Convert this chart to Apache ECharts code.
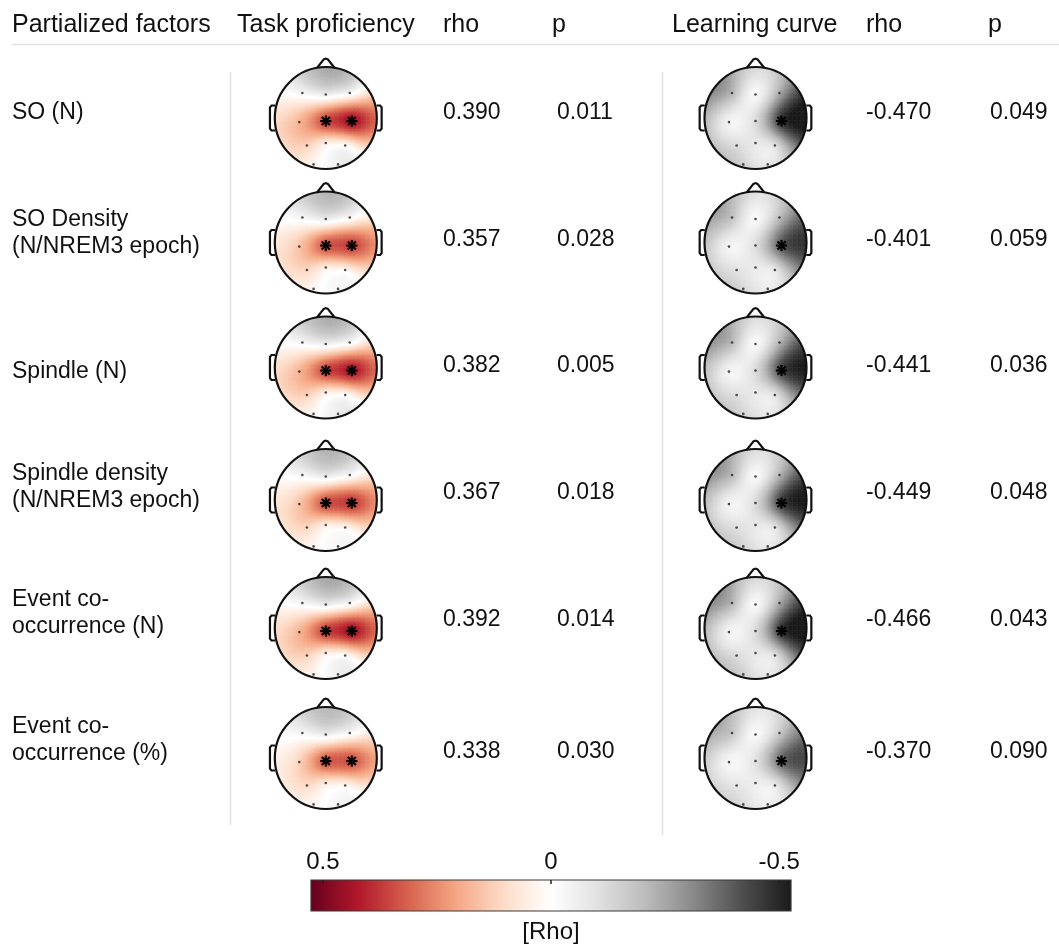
<!DOCTYPE html>
<html><head><meta charset="utf-8">
<script src="https://cdn.jsdelivr.net/npm/echarts@6/dist/echarts.min.js"></script>
<style>html,body{margin:0;padding:0;background:#fff}#c{width:1059px;height:947px}</style>
</head><body><div id="c"></div>
<script>
// ---------------- data ----------------
const headers = ['Partialized factors', 'Task proficiency', 'rho', 'p', 'Learning curve', 'rho', 'p'];
const factors = ['SO (N)', 'SO Density\n(N/NREM3 epoch)', 'Spindle (N)', 'Spindle density\n(N/NREM3 epoch)', 'Event co-\noccurrence (N)', 'Event co-\noccurrence (%)'];
const taskRho = ['0.390', '0.357', '0.382', '0.367', '0.392', '0.338'];
const taskP = ['0.011', '0.028', '0.005', '0.018', '0.014', '0.030'];
const learnRho = ['-0.470', '-0.401', '-0.441', '-0.449', '-0.466', '-0.370'];
const learnP = ['0.049', '0.059', '0.036', '0.048', '0.043', '0.090'];

const electrodes = ['F3', 'Fz', 'F4', 'C3', 'Cz', 'C4', 'P3', 'Pz', 'P4', 'O1', 'O2'];
const elecX = [-0.46, 0, 0.47, -0.52, 0, 0.51, -0.37, 0, 0.38, -0.24, 0.24];
const elecY = [0.49, 0.46, 0.49, -0.08, -0.06, -0.06, -0.54, -0.49, -0.54, -0.91, -0.91];

// electrode rho values (order as electrodes)
const taskMap1 = [-0.03, -0.06, -0.03, 0.18, 0.36, 0.45, 0.12, 0.05, 0.00, 0.03, -0.05];
const taskMap2 = [-0.03, -0.06, -0.02, 0.15, 0.34, 0.37, 0.11, 0.05, 0.02, 0.02, -0.03];
const taskMap3 = [-0.03, -0.05, -0.02, 0.18, 0.36, 0.44, 0.12, 0.05, 0.00, 0.02, -0.06];
const taskMap4 = [-0.03, -0.06, -0.02, 0.15, 0.35, 0.38, 0.11, 0.05, 0.02, 0.02, -0.03];
const taskMap5 = [-0.03, -0.06, -0.03, 0.18, 0.37, 0.45, 0.12, 0.05, 0.00, 0.03, -0.05];
const taskMap6 = [-0.03, -0.06, -0.02, 0.12, 0.33, 0.34, 0.10, 0.06, 0.02, 0.02, -0.03];
const learnMap1 = [-0.22, -0.02, -0.24, -0.04, -0.12, -0.47, -0.12, -0.08, -0.10, -0.15, -0.08];
const learnMap2 = [-0.19, -0.02, -0.20, -0.04, -0.11, -0.40, -0.10, -0.07, -0.08, -0.13, -0.07];
const learnMap3 = [-0.21, -0.02, -0.22, -0.04, -0.12, -0.44, -0.11, -0.08, -0.09, -0.14, -0.08];
const learnMap4 = [-0.21, -0.02, -0.22, -0.04, -0.12, -0.45, -0.11, -0.08, -0.09, -0.14, -0.08];
const learnMap5 = [-0.22, -0.02, -0.24, -0.04, -0.12, -0.47, -0.12, -0.08, -0.10, -0.15, -0.08];
const learnMap6 = [-0.18, -0.02, -0.17, -0.03, -0.10, -0.37, -0.09, -0.06, -0.07, -0.12, -0.06];
const taskMaps = [taskMap1, taskMap2, taskMap3, taskMap4, taskMap5, taskMap6];
const learnMaps = [learnMap1, learnMap2, learnMap3, learnMap4, learnMap5, learnMap6];
const taskSig = [['Cz', 'C4'], ['Cz', 'C4'], ['Cz', 'C4'], ['Cz', 'C4'], ['Cz', 'C4'], ['Cz', 'C4']];
const learnSig = [['C4'], ['C4'], ['C4'], ['C4'], ['C4'], ['C4']];

const cbTicks = [0.5, 0, -0.5];
const cbLabel = '[Rho]';
// RdGy colormap, from -0.5 to +0.5
const cmap = ['#1a1a1a', '#4d4d4d', '#878787', '#bababa', '#e0e0e0', '#ffffff', '#fddbc7', '#f4a582', '#d6604d', '#b2182b', '#67001f'];

// ---------------- layout ----------------
const W = 1059, H = 947;
const FONT = '"Liberation Sans", Arial, Helvetica, sans-serif';
const FS = 23, FSH = 25, FSC = 24;
const R = 51, EXT = 1.2, N = 96;
const rowCY = [118, 242.5, 367.5, 500, 628, 758];
const colCX = [325.8, 755.5];
const CLIM = 0.526;

// biharmonic spline (griddata v4) interpolation of electrode values
function solve(A, b) {
  const n = b.length;
  const M = A.map((r, i) => r.concat([b[i]]));
  for (let c = 0; c < n; c++) {
    let p = c;
    for (let r = c + 1; r < n; r++) if (Math.abs(M[r][c]) > Math.abs(M[p][c])) p = r;
    [M[c], M[p]] = [M[p], M[c]];
    for (let r = c + 1; r < n; r++) {
      const f = M[r][c] / M[c][c];
      for (let k = c; k <= n; k++) M[r][k] -= f * M[c][k];
    }
  }
  const x = new Array(n).fill(0);
  for (let r = n - 1; r >= 0; r--) {
    let s = M[r][n];
    for (let k = r + 1; k < n; k++) s -= M[r][k] * x[k];
    x[r] = s / M[r][r];
  }
  return x;
}
const green = d => d > 0 ? d * d * (Math.log(d) - 1) : 0;
function interpolator(vals) {
  const n = elecX.length;
  const G = [];
  for (let i = 0; i < n; i++) {
    const row = [];
    for (let j = 0; j < n; j++) row.push(green(Math.hypot(elecX[i] - elecX[j], elecY[i] - elecY[j])));
    G.push(row);
  }
  const w = solve(G, vals.slice());
  return (x, y) => {
    let s = 0;
    for (let j = 0; j < n; j++) s += w[j] * green(Math.hypot(x - elecX[j], y - elecY[j]));
    return s;
  };
}
function fieldData(vals) {
  const f = interpolator(vals);
  const step = 2 * EXT / N;
  const out = [];
  for (let i = 0; i < N; i++) {
    const x = -EXT + (i + 0.5) * step;
    for (let j = 0; j < N; j++) {
      const y = -EXT + (j + 0.5) * step;
      if (x * x + y * y > 1.0) continue;
      let v = f(x, y);
      v = Math.max(-CLIM, Math.min(CLIM, v));
      out.push([i, j, v]);
    }
  }
  return out;
}

const cats = Array.from({length: N}, (_, i) => i);
const grids = [], xAxes = [], yAxes = [], series = [], heatIdx = [];

function headOutline(params, api) {
  const c = api.coord([0, 0]);
  const s = api.size([1, 1]);
  const P = (x, y) => [c[0] + x * s[0], c[1] - y * s[1]];
  const st = {fill: null, stroke: '#111', lineWidth: 2.2};
  const ear = sgn => [P(sgn * 0.995, 0.245), P(sgn * 1.065, 0.245), P(sgn * 1.095, 0.21), P(sgn * 1.095, -0.21), P(sgn * 1.065, -0.245), P(sgn * 0.995, -0.245)];
  return {
    type: 'group', children: [
      {type: 'circle', shape: {cx: c[0], cy: c[1], r: s[0]}, style: st},
      {type: 'polyline', shape: {points: [P(-0.17, 0.985), P(-0.04, 1.15), P(0, 1.165), P(0.04, 1.15), P(0.17, 0.985)]}, style: st},
      {type: 'polyline', shape: {points: ear(-1)}, style: st},
      {type: 'polyline', shape: {points: ear(1)}, style: st}
    ]
  };
}
function asterisk(params, api) {
  const p = api.coord([api.value(0), api.value(1)]);
  const L = 5.6, D = L * 0.72;
  const st = {stroke: '#000', lineWidth: 2.1};
  return {
    type: 'group', children: [
      {type: 'line', shape: {x1: p[0] - L, y1: p[1], x2: p[0] + L, y2: p[1]}, style: st},
      {type: 'line', shape: {x1: p[0], y1: p[1] - L, x2: p[0], y2: p[1] + L}, style: st},
      {type: 'line', shape: {x1: p[0] - D, y1: p[1] - D, x2: p[0] + D, y2: p[1] + D}, style: st},
      {type: 'line', shape: {x1: p[0] - D, y1: p[1] + D, x2: p[0] + D, y2: p[1] - D}, style: st}
    ]
  };
}

function addHead(cx, cy, vals, sig) {
  const g = grids.length;
  grids.push({left: cx - EXT * R, top: cy - EXT * R, width: 2 * EXT * R, height: 2 * EXT * R, containLabel: false});
  const xc = xAxes.length;
  xAxes.push({type: 'category', data: cats, gridIndex: g, show: false, boundaryGap: true});
  xAxes.push({type: 'value', min: -EXT, max: EXT, gridIndex: g, show: false});
  yAxes.push({type: 'category', data: cats, gridIndex: g, show: false, boundaryGap: true});
  yAxes.push({type: 'value', min: -EXT, max: EXT, gridIndex: g, show: false});
  heatIdx.push(series.length);
  series.push({type: 'heatmap', xAxisIndex: xc, yAxisIndex: xc, data: fieldData(vals), progressive: 0, silent: true, animation: false});
  series.push({type: 'custom', xAxisIndex: xc + 1, yAxisIndex: xc + 1, data: [[0, 0]], renderItem: headOutline, silent: true, z: 5});
  const dots = [], stars = [];
  electrodes.forEach((e, i) => (sig.includes(e) ? stars : dots).push([elecX[i], elecY[i]]));
  series.push({type: 'scatter', xAxisIndex: xc + 1, yAxisIndex: xc + 1, data: dots, symbol: 'circle', symbolSize: 2.6, itemStyle: {color: '#222'}, silent: true, z: 6});
  series.push({type: 'custom', xAxisIndex: xc + 1, yAxisIndex: xc + 1, data: stars, renderItem: asterisk, silent: true, z: 7});
}
for (let r = 0; r < 6; r++) {
  addHead(colCX[0], rowCY[r], taskMaps[r], taskSig[r]);
  addHead(colCX[1], rowCY[r], learnMaps[r], learnSig[r]);
}

// colorbar
const cbG = grids.length;
grids.push({left: 311, top: 880, width: 480, height: 31});
const cbX = xAxes.length;
xAxes.push({
  type: 'value', gridIndex: cbG, min: -CLIM, max: CLIM, inverse: true, position: 'top', z: 10,
  axisLine: {show: false, onZero: false}, splitLine: {show: false},
  axisTick: {show: true, inside: true, length: 4, customValues: cbTicks, lineStyle: {color: '#222', width: 1.5}},
  axisLabel: {show: true, customValues: cbTicks, fontFamily: FONT, fontSize: FSC, color: '#111', margin: 6,
    formatter: v => (Math.abs(v) < 1e-9 ? '0' : String(v))}
});
yAxes.push({type: 'value', gridIndex: cbG, min: 0, max: 1, show: false});
series.push({
  type: 'custom', xAxisIndex: cbX, yAxisIndex: cbX, data: [[-CLIM, CLIM]], silent: true, z: 0,
  renderItem: (params, api) => {
    const a = api.coord([api.value(1), 1]);
    const b = api.coord([api.value(0), 0]);
    const stops = cmap.slice().reverse().map((c, i, arr) => ({offset: i / (arr.length - 1), color: c}));
    return {
      type: 'rect', shape: {x: a[0], y: a[1], width: b[0] - a[0], height: b[1] - a[1]},
      style: {fill: new echarts.graphic.LinearGradient(0, 0, 1, 0, stops), stroke: '#3a3a3a', lineWidth: 1.2}
    };
  }
});

// ---------------- table text ----------------
const graphic = [];
const headerX = [12, 237, 443, 552, 672, 866, 988];
headers.forEach((t, i) => graphic.push({type: 'text', x: headerX[i], y: 25, style: {text: t, font: `${FSH}px ${FONT}`, fill: '#111', verticalAlign: 'middle'}}));
const labelCY = [113, 233.5, 372, 487.5, 613.5, 740.5];
const valueCY = [113, 240, 366, 493, 620, 752];
factors.forEach((t, i) => graphic.push({type: 'text', x: 12, y: labelCY[i], style: {text: t, font: `${FS}px ${FONT}`, fill: '#111', verticalAlign: 'middle', lineHeight: 27}}));
const cols = [[taskRho, 443], [taskP, 557], [learnRho, 866], [learnP, 990]];
cols.forEach(([arr, x]) => arr.forEach((t, i) => graphic.push({type: 'text', x: x, y: valueCY[i], style: {text: t, font: `${FS}px ${FONT}`, fill: '#111', verticalAlign: 'middle'}})));
graphic.push({type: 'line', shape: {x1: 12, y1: 44.5, x2: W, y2: 44.5}, style: {stroke: '#e2e2e2', lineWidth: 1.5}});
graphic.push({type: 'line', shape: {x1: 230.5, y1: 72, x2: 230.5, y2: 825}, style: {stroke: '#e2e2e2', lineWidth: 1.5}});
graphic.push({type: 'line', shape: {x1: 662.5, y1: 72, x2: 662.5, y2: 835}, style: {stroke: '#e2e2e2', lineWidth: 1.5}});
graphic.push({type: 'text', x: 551, y: 932, style: {text: cbLabel, font: `${FSC}px ${FONT}`, fill: '#111', align: 'center', verticalAlign: 'middle'}});

const chart = echarts.init(document.getElementById('c'), null, {renderer: 'canvas', width: W, height: H});
chart.setOption({
  animation: false,
  backgroundColor: '#fff',
  grid: grids, xAxis: xAxes, yAxis: yAxes,
  visualMap: {type: 'continuous', show: false, min: -CLIM, max: CLIM, seriesIndex: heatIdx, inRange: {color: cmap}},
  series: series,
  graphic: graphic
});
</script></body></html>
